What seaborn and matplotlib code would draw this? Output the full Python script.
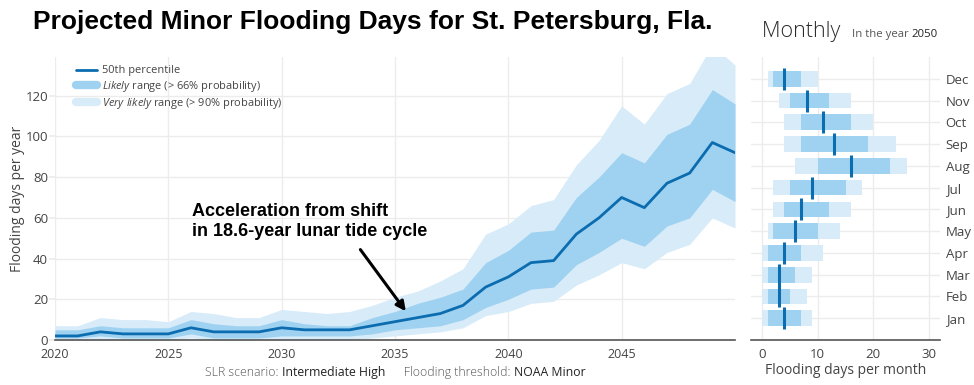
import matplotlib
matplotlib.use('Agg')
import matplotlib.pyplot as plt
from matplotlib.lines import Line2D
import seaborn as sns
import pandas as pd

#  Yearly projection (days per year)
years = list(range(2020, 2051))
median = [2, 2, 4, 3, 3, 3, 6, 4, 4, 4, 6, 5, 5, 5, 7, 9, 11, 13, 17, 26, 31,
          38, 39, 52, 60, 70, 65, 77, 82, 97, 92]
likely_lo = [1, 1, 2, 1, 1, 1, 3, 1, 1, 1, 2, 2, 2, 2, 3, 5, 6, 7, 10, 16, 20,
             25, 26, 37, 43, 50, 46, 56, 60, 74, 68]
likely_hi = [5, 5, 7, 6, 6, 6, 10, 8, 7, 7, 10, 8, 7, 7, 11, 14, 18, 21, 25, 38, 44,
             53, 54, 70, 80, 92, 87, 101, 106, 123, 116]
vlikely_lo = [0, 0, 0, 0, 0, 0, 1, 0, 0, 0, 0, 0, 0, 0, 1, 2, 3, 4, 6, 12, 14,
              18, 19, 27, 32, 38, 35, 43, 47, 60, 55]
vlikely_hi = [7, 7, 11, 10, 10, 9, 14, 13, 11, 11, 15, 14, 13, 14, 17, 21, 24, 29, 35, 52, 57,
              66, 69, 86, 98, 115, 106, 121, 126, 145, 135]

#  Monthly projection in 2050 (days per month)
months = ['Jan', 'Feb', 'Mar', 'Apr', 'May', 'Jun', 'Jul', 'Aug', 'Sep', 'Oct', 'Nov', 'Dec']
m_median = [4, 3, 3, 4, 6, 7, 9, 16, 13, 11, 8, 4]
m_likely_lo = [1, 1, 1, 1, 2, 4, 5, 10, 7, 7, 5, 2]
m_likely_hi = [7, 5, 6, 7, 10, 12, 15, 23, 19, 16, 12, 7]
m_vlikely_lo = [0, 0, 0, 0, 1, 2, 2, 6, 4, 4, 3, 1]
m_vlikely_hi = [9, 8, 9, 11, 14, 16, 18, 26, 24, 20, 16, 10]

df = pd.DataFrame({'year': years, 'median': median})

sns.set_theme(style='white')
plt.rcParams['font.family'] = ['Open Sans', 'DejaVu Sans']
plt.rcParams['mathtext.fontset'] = 'custom'
plt.rcParams['mathtext.rm'] = 'Open Sans'
plt.rcParams['mathtext.it'] = 'Open Sans:italic'

c_line = '#0b6cb0'
c_likely = '#9fd2f0'
c_vlikely = '#d7ebf9'
c_grid = '#ececec'
c_text = '#444444'

fig = plt.figure(figsize=(9.74, 3.85), dpi=100)
ax = fig.add_axes([55 / 974, 45 / 385, 680 / 974, 283 / 385])
ax2 = fig.add_axes([751 / 974, 45 / 385, 189 / 974, 283 / 385])

#  Main chart: bands and median
ax.fill_between(years, vlikely_lo, vlikely_hi, color=c_vlikely, lw=0, zorder=1)
ax.fill_between(years, likely_lo, likely_hi, color=c_likely, lw=0, zorder=2)
sns.lineplot(data=df, x='year', y='median', ax=ax, color=c_line, lw=2, zorder=3)

ax.set_xlim(2020, 2050)
ax.set_ylim(0, 139)
ax.set_xticks([2020, 2025, 2030, 2035, 2040, 2045])
ax.set_yticks([0, 20, 40, 60, 80, 100, 120])
ax.grid(True, color=c_grid, lw=1)
ax.set_axisbelow(True)
for s in ['top', 'right', 'left']:
    ax.spines[s].set_visible(False)
ax.spines['bottom'].set_color('#555555')
ax.spines['bottom'].set_linewidth(1.2)
ax.spines['bottom'].set_zorder(4)
ax.tick_params(axis='y', length=4, color=c_grid, labelsize=9.5, labelcolor=c_text, pad=1, left=True)
ax.tick_params(axis='x', length=0, labelsize=9, labelcolor=c_text, pad=6)
ax.set_xlabel('')
ax.set_ylabel('Flooding days per year', fontsize=10, color=c_text)
ax.yaxis.set_label_coords(-0.044, 0.5)

handles = [Line2D([], [], color=c_line, lw=2),
           Line2D([], [], color=c_likely, lw=6),
           Line2D([], [], color=c_vlikely, lw=6)]
labels = ['50th percentile',
          r'$\it{Likely}$ range (> 66% probability)',
          r'$\it{Very\ likely}$ range (> 90% probability)']
ax.legend(handles, labels, loc='upper left', bbox_to_anchor=(0.017, 1.005), frameon=False,
          fontsize=7.9, handlelength=1.9, handletextpad=0.45, labelspacing=0.2,
          labelcolor=c_text)

ax.annotate('', xy=(2035.55, 13), xytext=(2033.4, 45.5),
            arrowprops=dict(arrowstyle='-|>', color='black', lw=2.2, mutation_scale=14),
            zorder=5)
ax.text(2026.05, 67.5, 'Acceleration from shift\nin 18.6-year lunar tide cycle',
        fontsize=13, fontweight='bold', family='Liberation Sans', color='black',
        va='top', ha='left', linespacing=1.3, zorder=5)

#  Monthly panel
ypos = list(range(len(months)))
ax2.barh(ypos, [h - l for l, h in zip(m_vlikely_lo, m_vlikely_hi)], left=m_vlikely_lo,
         height=0.72, color=c_vlikely, lw=0, zorder=2)
ax2.barh(ypos, [h - l for l, h in zip(m_likely_lo, m_likely_hi)], left=m_likely_lo,
         height=0.72, color=c_likely, lw=0, zorder=3)
ax2.scatter(m_median, ypos, marker='|', s=230, lw=2.2, color=c_line, zorder=4)
ax2.set_xlim(-2, 32)
ax2.set_ylim(-1, 12)
ax2.set_xticks([0, 10, 20, 30])
ax2.set_yticks(ypos)
ax2.set_yticklabels(months)
ax2.yaxis.tick_right()
ax2.grid(True, color=c_grid, lw=1)
ax2.set_axisbelow(True)
for s in ['top', 'right', 'left']:
    ax2.spines[s].set_visible(False)
ax2.spines['bottom'].set_color('#555555')
ax2.spines['bottom'].set_linewidth(1.2)
ax2.tick_params(axis='y', length=0, labelsize=9.5, labelcolor=c_text, pad=4)
ax2.tick_params(axis='x', length=0, labelsize=9.5, labelcolor=c_text, pad=6)
ax2.set_xlabel('Flooding days per month', fontsize=10, color=c_text, labelpad=1)

#  Titles
fig.text(33 / 974, 1 - 22 / 385, 'Projected Minor Flooding Days for St. Petersburg, Fla.',
         fontsize=19, fontweight='bold', family='Liberation Sans', color='black',
         va='center', ha='left')


def text_row(x, y, parts):
    #  place text pieces one after another
    fig.canvas.draw()
    r = fig.canvas.get_renderer()
    for s, kw in parts:
        t = fig.text(x, y, s, va='baseline', ha='left', **kw)
        bb = t.get_window_extent(renderer=r)
        x = x + bb.width / fig.bbox.width


text_row(762 / 974, 1 - 37 / 385,
         [('Monthly  ', dict(fontsize=15.5, fontweight='light', color='#2a2a2a')),
          ('In the year ', dict(fontsize=8.2, color='#555555')),
          ('2050', dict(fontsize=8.2, color='#222222'))])
text_row(205 / 974, 1 - 376 / 385,
         [('SLR scenario: ', dict(fontsize=8.8, color='#555555', fontweight='light')),
          ('Intermediate High', dict(fontsize=8.8, color='#222222')),
          ('      Flooding threshold: ', dict(fontsize=8.8, color='#555555', fontweight='light')),
          ('NOAA Minor', dict(fontsize=8.8, color='#222222'))])

fig.savefig('out.png', dpi=100)
